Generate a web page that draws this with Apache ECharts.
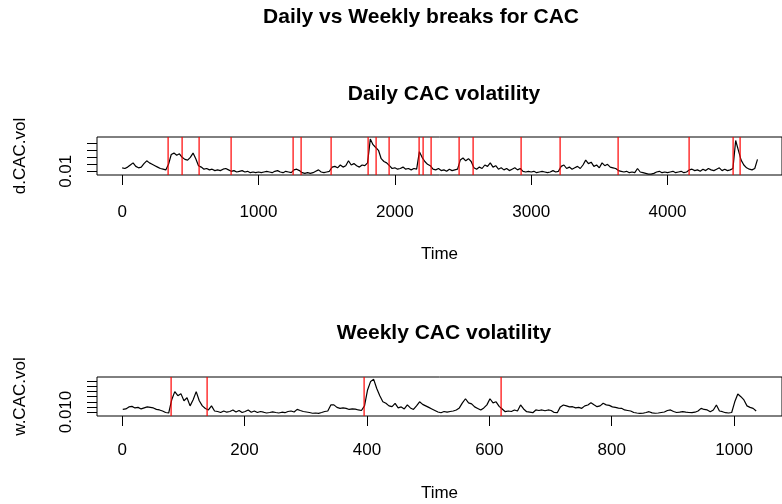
<!DOCTYPE html>
<html>
<head>
<meta charset="utf-8">
<script src="https://cdn.jsdelivr.net/npm/echarts@6/dist/echarts.min.js"></script>
<style>
html,body{margin:0;padding:0;background:#fff;}
#chart{width:782px;height:504px;}
</style>
</head>
<body>
<div id="chart"></div>
<script>
// ---- Data ----
const mainTitle = "Daily vs Weekly breaks for CAC";
const dailyTitle = "Daily CAC volatility";
const weeklyTitle = "Weekly CAC volatility";

// daily series: sampled every 20 time steps starting at 0
const dailyStart = 0;
const dailyStep = 20;
const dailyVol = [
0.015,0.014,0.016,0.019,0.022,0.017,0.015,0.016,0.021,0.025,
0.022,0.020,0.018,0.016,0.014,0.013,0.012,0.020,0.034,0.036,
0.033,0.035,0.030,0.027,0.026,0.030,0.036,0.028,0.018,0.016,
0.013,0.014,0.012,0.013,0.011,0.012,0.011,0.013,0.014,0.012,
0.010,0.011,0.009,0.010,0.011,0.009,0.010,0.008,0.009,0.008,
0.009,0.008,0.009,0.010,0.009,0.008,0.010,0.011,0.009,0.008,
0.010,0.009,0.008,0.012,0.013,0.011,0.008,0.007,0.008,0.007,
0.008,0.010,0.012,0.009,0.008,0.009,0.010,0.016,0.017,0.015,
0.019,0.016,0.018,0.025,0.019,0.021,0.018,0.016,0.019,0.018,
0.022,0.056,0.048,0.044,0.040,0.028,0.024,0.022,0.018,0.014,
0.015,0.013,0.014,0.016,0.013,0.014,0.012,0.014,0.013,0.038,
0.030,0.024,0.020,0.018,0.013,0.012,0.014,0.011,0.012,0.010,
0.013,0.011,0.012,0.013,0.026,0.029,0.025,0.028,0.024,0.015,
0.013,0.016,0.014,0.019,0.017,0.022,0.016,0.018,0.013,0.015,
0.012,0.014,0.011,0.013,0.015,0.012,0.014,0.010,0.009,0.010,
0.009,0.010,0.008,0.009,0.010,0.009,0.008,0.009,0.011,0.009,
0.010,0.017,0.019,0.014,0.016,0.013,0.015,0.017,0.014,0.019,
0.026,0.021,0.023,0.017,0.019,0.015,0.022,0.018,0.020,0.016,
0.015,0.014,0.011,0.010,0.009,0.010,0.008,0.009,0.008,0.014,
0.009,0.008,0.007,0.006,0.006,0.007,0.009,0.010,0.008,0.009,
0.008,0.009,0.010,0.008,0.009,0.010,0.008,0.009,0.012,0.013,
0.011,0.012,0.010,0.013,0.011,0.014,0.012,0.011,0.013,0.015,
0.011,0.013,0.011,0.012,0.014,0.054,0.040,0.026,0.019,0.015,
0.013,0.012,0.014,0.027
];

// weekly series: sampled every 5 time steps starting at 1
const weeklyStart = 1;
const weeklyStep = 5;
const weeklyVol = [
0.0126,0.0130,0.0150,0.0155,0.0140,0.0145,0.0130,0.0140,0.0150,0.0145,
0.0140,0.0126,0.0120,0.0110,0.0095,0.0090,0.0220,0.0300,0.0260,0.0280,
0.0210,0.0240,0.0160,0.0220,0.0300,0.0210,0.0160,0.0135,0.0120,0.0160,
0.0110,0.0105,0.0095,0.0110,0.0098,0.0105,0.0120,0.0100,0.0115,0.0095,
0.0105,0.0120,0.0098,0.0110,0.0095,0.0105,0.0098,0.0090,0.0095,0.0102,
0.0095,0.0090,0.0098,0.0093,0.0105,0.0110,0.0100,0.0126,0.0115,0.0105,
0.0100,0.0095,0.0088,0.0090,0.0087,0.0095,0.0105,0.0110,0.0169,0.0170,
0.0145,0.0135,0.0140,0.0135,0.0125,0.0130,0.0128,0.0120,0.0115,0.0160,
0.0316,0.0400,0.0420,0.0330,0.0260,0.0200,0.0185,0.0160,0.0153,0.0185,
0.0140,0.0150,0.0130,0.0170,0.0140,0.0125,0.0160,0.0200,0.0175,0.0160,
0.0145,0.0130,0.0115,0.0100,0.0093,0.0105,0.0098,0.0105,0.0110,0.0120,
0.0140,0.0190,0.0230,0.0190,0.0180,0.0150,0.0135,0.0120,0.0140,0.0170,
0.0230,0.0190,0.0200,0.0155,0.0130,0.0103,0.0110,0.0105,0.0120,0.0110,
0.0169,0.0130,0.0103,0.0098,0.0093,0.0120,0.0115,0.0120,0.0112,0.0120,
0.0115,0.0095,0.0093,0.0150,0.0169,0.0160,0.0150,0.0152,0.0140,0.0145,
0.0136,0.0160,0.0169,0.0191,0.0170,0.0152,0.0160,0.0185,0.0170,0.0165,
0.0150,0.0145,0.0138,0.0136,0.0120,0.0115,0.0110,0.0095,0.0090,0.0087,
0.0088,0.0095,0.0103,0.0092,0.0088,0.0090,0.0095,0.0100,0.0115,0.0120,
0.0105,0.0095,0.0098,0.0103,0.0098,0.0095,0.0093,0.0098,0.0110,0.0136,
0.0125,0.0120,0.0103,0.0120,0.0169,0.0110,0.0103,0.0093,0.0090,0.0095,
0.0200,0.0276,0.0250,0.0218,0.0160,0.0145,0.0136,0.0110
];

// structural breaks (time index)
const dailyBreaks = [339,436,561,800,1254,1309,1529,1802,1865,1957,2174,2203,2263,2471,2576,2924,3209,3634,4155,4484,4534];
const weeklyBreaks = [80,138,395,619];

// tick positions and labels
const dailyXTicks = [0,1000,2000,3000,4000];
const weeklyXTicks = [0,200,400,600,800,1000];
const dailyYTicks = [0.01,0.02,0.03,0.04,0.05];
const dailyYLabels = [0.01];
const weeklyYTicks = [0.010,0.015,0.020,0.025,0.030,0.035,0.040];
const weeklyYLabels = [0.010];

// ---- Build chart ----
const FONT = "'Liberation Sans', Arial, Helvetica, sans-serif";
const chart = echarts.init(document.getElementById('chart'), null, {renderer: 'canvas'});

const toPairs = (start, step, arr) => arr.map((v, i) => [start + i * step, v]);

function xAxisCfg(gridIndex, min, max, ticks, margin, nameGap) {
  return {
    type: 'value', gridIndex, min, max,
    name: 'Time', nameLocation: 'middle', nameGap,
    nameTextStyle: {fontFamily: FONT, fontSize: 17, color: '#000'},
    axisLine: {show: false, onZero: false},
    axisTick: {show: true, inside: false, length: 10, lineStyle: {color: '#000', width: 1}, customValues: ticks},
    axisLabel: {show: true, margin, fontFamily: FONT, fontSize: 17, color: '#000', customValues: ticks,
      formatter: v => String(v)},
    splitLine: {show: false}
  };
}
function yAxisCfg(gridIndex, min, max, ticks, labels, fmt, name) {
  return {
    type: 'value', gridIndex, min, max,
    name, nameLocation: 'middle', nameGap: 68, nameRotate: 90,
    nameTextStyle: {fontFamily: FONT, fontSize: 17, color: '#000'},
    axisLine: {show: false, onZero: false},
    axisTick: {show: true, inside: false, length: 10, lineStyle: {color: '#000', width: 1}, customValues: ticks},
    axisLabel: {show: true, rotate: 90, margin: 22, fontFamily: FONT, fontSize: 17, color: '#000',
      customValues: labels, formatter: v => Number(v).toFixed(fmt)},
    splitLine: {show: false}
  };
}
// vertical break lines drawn through the axes' own scale
function breakSeries(breaks, xi, yi) {
  return {
    type: 'custom', xAxisIndex: xi, yAxisIndex: yi, silent: true, clip: true, z: 4,
    data: breaks.map(b => [b]),
    encode: {x: 0},
    renderItem: function (params, api) {
      const x = api.coord([api.value(0), 0])[0];
      const cs = params.coordSys;
      return {
        type: 'rect',
        shape: {x: Math.round(x) - 0.5, y: cs.y, width: 1.2, height: cs.height},
        style: {fill: '#ff0000'}
      };
    }
  };
}

const option = {
  animation: false,
  backgroundColor: '#ffffff',
  grid: [
    {left: 97, top: 137, width: 694, height: 38, show: true, borderColor: '#000', borderWidth: 1, backgroundColor: 'transparent'},
    {left: 97, top: 377, width: 694, height: 39, show: true, borderColor: '#000', borderWidth: 1, backgroundColor: 'transparent'}
  ],
  xAxis: [
    xAxisCfg(0, -184.6, 4839.8, dailyXTicks, 29, 71),
    xAxisCfg(1, -41.1, 1078.2, weeklyXTicks, 26, 69)
  ],
  yAxis: [
    yAxisCfg(0, 0.00471, 0.0590, dailyYTicks, dailyYLabels, 2, 'd.CAC.vol'),
    yAxisCfg(1, 0.00608, 0.04431, weeklyYTicks, weeklyYLabels, 3, 'w.CAC.vol')
  ],
  graphic: [
    {type: 'text', style: {text: mainTitle, x: 421, y: 17, textAlign: 'center', textVerticalAlign: 'middle', font: 'bold 21px ' + FONT, fill: '#000'}},
    {type: 'text', style: {text: dailyTitle, x: 444, y: 94, textAlign: 'center', textVerticalAlign: 'middle', font: 'bold 21px ' + FONT, fill: '#000'}},
    {type: 'text', style: {text: weeklyTitle, x: 444, y: 333, textAlign: 'center', textVerticalAlign: 'middle', font: 'bold 21px ' + FONT, fill: '#000'}}
  ],
  series: [
    {
      type: 'line', xAxisIndex: 0, yAxisIndex: 0, showSymbol: false, symbol: 'none',
      itemStyle: {color: '#000'},
      lineStyle: {color: '#000', width: 1.2}, data: toPairs(dailyStart, dailyStep, dailyVol), z: 3
    },
    {
      type: 'line', xAxisIndex: 1, yAxisIndex: 1, showSymbol: false, symbol: 'none',
      itemStyle: {color: '#000'},
      lineStyle: {color: '#000', width: 1.2}, data: toPairs(weeklyStart, weeklyStep, weeklyVol), z: 3
    },
    breakSeries(dailyBreaks, 0, 0),
    breakSeries(weeklyBreaks, 1, 1)
  ]
};
chart.setOption(option);
</script>
</body>
</html>
